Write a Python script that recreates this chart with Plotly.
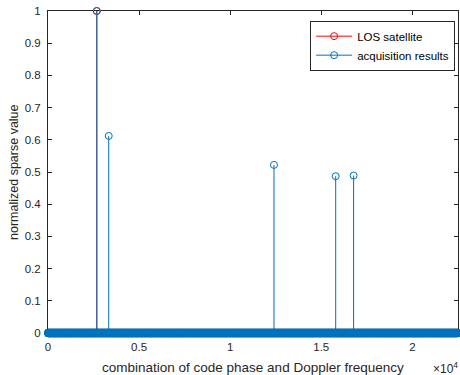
import numpy as np
import plotly.graph_objects as go

# ---- data ----
n_bins = 22506                      # code-phase x Doppler combinations
los_index = [2678]
los_value = [1.0]
acq_index = [2678, 3333, 12404, 15792, 16776]
acq_value = [1.0, 0.612, 0.522, 0.487, 0.489]
x_tick_vals = [0, 5000, 10000, 15000, 20000]
x_tick_text = ["0", "0.5", "1", "1.5", "2"]
y_tick_vals = [0, 0.1, 0.2, 0.3, 0.4, 0.5, 0.6, 0.7, 0.8, 0.9, 1]
y_tick_text = ["0", "0.1", "0.2", "0.3", "0.4", "0.5", "0.6", "0.7", "0.8", "0.9", "1"]

RED = "#FF0000"
BLUE = "#0072BD"
AX = "#262626"
FONT = "Liberation Sans, Arial, sans-serif"

# full sparse vector
acq_full = np.zeros(n_bins)
acq_full[np.array(acq_index) - 1] = acq_value
x_full = np.arange(1, n_bins + 1)


def stems(xs, ys):
    sx, sy = [], []
    for x, y in zip(xs, ys):
        sx += [x, x, None]
        sy += [0, y, None]
    return sx, sy


fig = go.Figure()

# LOS satellite stems
sx, sy = stems(los_index, los_value)
fig.add_trace(go.Scatter(x=sx, y=sy, mode="lines", line=dict(color=RED, width=1),
                         showlegend=False, hoverinfo="skip"))
fig.add_trace(go.Scatter(x=los_index, y=los_value, mode="markers",
                         marker=dict(symbol="circle-open", size=7, color=RED, line=dict(width=1)),
                         showlegend=False, cliponaxis=False))

# acquisition stems
sx, sy = stems(acq_index, acq_value)
fig.add_trace(go.Scatter(x=sx, y=sy, mode="lines", line=dict(color=BLUE, width=1),
                         showlegend=False, hoverinfo="skip"))
fig.add_trace(go.Scatter(x=x_full, y=acq_full, mode="markers",
                         marker=dict(symbol="circle-open", size=7, color=BLUE, line=dict(width=1)),
                         showlegend=False, cliponaxis=False))

# legend entries
fig.add_trace(go.Scatter(x=[None], y=[None], mode="lines+markers", name="LOS satellite",
                         line=dict(color=RED, width=1),
                         marker=dict(symbol="circle-open", size=7, color=RED, line=dict(width=1))))
fig.add_trace(go.Scatter(x=[None], y=[None], mode="lines+markers", name="acquisition results",
                         line=dict(color=BLUE, width=1),
                         marker=dict(symbol="circle-open", size=7, color=BLUE, line=dict(width=1))))

axis_common = dict(showgrid=False, zeroline=False, showline=True, linecolor=AX, linewidth=1,
                   mirror="ticks", ticks="inside", ticklen=4, tickcolor=AX, tickwidth=1,
                   tickfont=dict(family=FONT, size=11.5, color=AX), automargin=False,
                   layer="below traces")

fig.update_xaxes(range=[0, n_bins], tickvals=x_tick_vals, ticktext=x_tick_text,
                 ticklabelstandoff=3, **axis_common)
fig.update_yaxes(range=[0, 1], tickvals=y_tick_vals, ticktext=y_tick_text,
                 ticklabelstandoff=4, **axis_common)

# axis titles and exponent label (paper coordinates)
fig.add_annotation(text="combination of code phase and Doppler frequency",
                   xref="paper", yref="paper", x=0.5, y=-0.106, xanchor="center", yanchor="middle",
                   showarrow=False, font=dict(family=FONT, size=13.5, color=AX))
fig.add_annotation(text="normalized sparse value", textangle=-90,
                   xref="paper", yref="paper", x=-0.083, y=0.5, xanchor="center", yanchor="middle",
                   showarrow=False, font=dict(family=FONT, size=12.5, color=AX))
fig.add_annotation(text="×10<sup>4</sup>", xref="paper", yref="paper", x=1.004, y=-0.108,
                   xanchor="right", yanchor="middle", showarrow=False,
                   font=dict(family=FONT, size=12, color=AX))

fig.update_layout(
    width=460, height=375,
    margin=dict(l=48, r=2, t=11, b=42, autoexpand=False),
    paper_bgcolor="white", plot_bgcolor="white",
    font=dict(family=FONT, size=11, color=AX),
    legend=dict(x=0.993, y=0.97, xanchor="right", yanchor="top",
                bgcolor="white", bordercolor=AX, borderwidth=1,
                font=dict(family=FONT, size=11.5, color="black"),
                tracegroupgap=0, itemwidth=36),
)

fig.write_html("out.html", config={"displayModeBar": False},
               post_script="document.body.style.margin='0';document.body.style.overflow='hidden';")
